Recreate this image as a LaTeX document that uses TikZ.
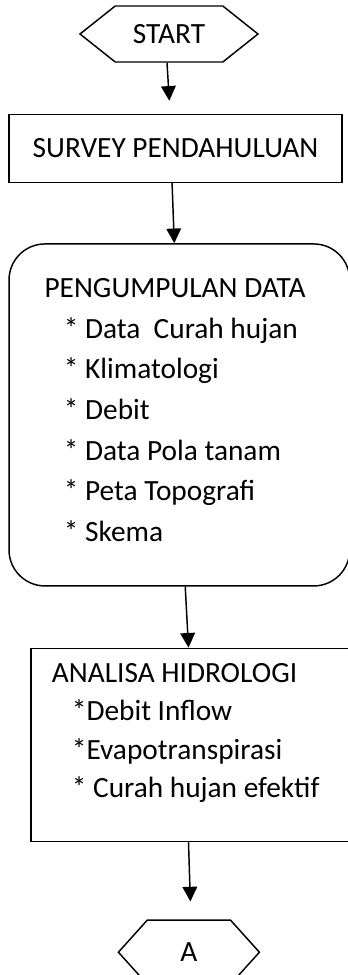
\documentclass[tikz,border=0pt]{standalone}
\usepackage{fontspec}
\setmainfont{Carlito}
\usetikzlibrary{arrows.meta,positioning,shapes.symbols,calc}
\tikzset{
  terminal/.style={signal,signal to=west and east,draw,line width=1.1pt,inner sep=0pt,align=center},
  process/.style={rectangle,draw,line width=1.1pt,align=center},
  datablock/.style={rectangle,rounded corners=27pt,draw,line width=1.1pt},
  listtext/.style={align=left,inner sep=0pt,anchor=north west},
  arrow/.style={-{Triangle[length=11pt,width=11pt]},line width=1.1pt}
}

\begin{document}
\begin{tikzpicture}[x=0.75pt,y=-0.75pt,font=\fontsize{22}{30.5}\selectfont]
  \useasboundingbox (0,0) rectangle (347,975);
  \node[terminal,minimum width=133.5pt,minimum height=42pt,signal pointer angle=77] (start) at (169,34) {START};
  \node[process,below=38.25pt of start,xshift=4.9pt,minimum width=249.75pt,minimum height=51pt] (survey) {SURVEY PENDAHULUAN};
  \node[datablock,below=45pt of survey.south west,anchor=north west,minimum width=255.5pt,minimum height=256.5pt] (data) {};
  \node[listtext] (datatext) at ($(data.north west)+(27pt,-26.2pt)$) {PENGUMPULAN DATA\\
    \hspace*{14.5pt}* Data\ \ Curah hujan\\
    \hspace*{14.5pt}* Klimatologi\\
    \hspace*{14.5pt}* Debit\\
    \hspace*{14.5pt}* Data Pola tanam\\
    \hspace*{14.5pt}* Peta Topografi\\
    \hspace*{14.5pt}* Skema};
  \node[process,below=45.75pt of data.south west,anchor=north west,xshift=16.5pt,minimum width=240pt,minimum height=144.75pt] (hidro) {};
  \node[listtext,font=\fontsize{22}{28.7}\selectfont] (hidrotext) at ($(hidro.north west)+(16pt,-11.8pt)$) {ANALISA HIDROLOGI\\
    \hspace*{15pt}*Debit Inflow\\
    \hspace*{15pt}*Evapotranspirasi\\
    \hspace*{15pt}* Curah hujan efektif};
  \node[terminal,below=58pt of hidro,xshift=-1.6pt,minimum width=105.75pt,minimum height=48pt,signal pointer angle=96] (conA) {A};
  % connectors
  \draw[arrow] ([xshift=-1.5pt]start.south) -- ($(survey.north)+(-4.65pt,9.75pt)$);
  \draw[arrow] ([xshift=-2.6pt]survey.south) -- ([xshift=-3.8pt]data.north);
  \draw[arrow] ([xshift=4.4pt]data.south) -- ([xshift=-1.9pt]hidro.north);
  \draw[arrow] ([xshift=-1.9pt]hidro.south) -- ($(conA.north)+(1.1pt,13.5pt)$);
\end{tikzpicture}
\end{document}
